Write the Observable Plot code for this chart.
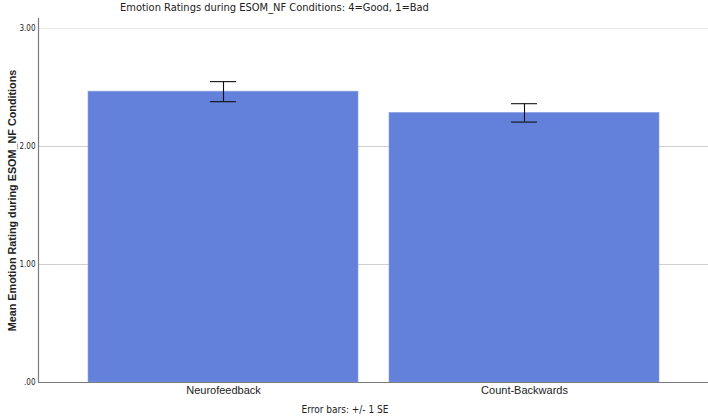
<!DOCTYPE html>
<html>
<head>
<meta charset="utf-8">
<script src="https://cdn.jsdelivr.net/npm/d3@7"></script>
<script src="https://cdn.jsdelivr.net/npm/@observablehq/plot@0.6"></script>
<style>
  html, body { margin: 0; padding: 0; background: #ffffff; }
  #wrap { position: relative; width: 708px; height: 418px; overflow: hidden; }
  #title { position: absolute; top: 0; left: 120px; width: 274px; height: 16px; background: #fff;
           font: 11px "Liberation Sans Narrow", "DejaVu Sans Condensed", sans-serif; color: #222;
           text-align: center; line-height: 15px; white-space: nowrap; }
  #chart { position: absolute; top: 17px; left: 0; }
  #caption { position: absolute; top: 403px; left: 245px; width: 200px; text-align: center; white-space: nowrap;
             font: 10px "Liberation Sans Narrow", "DejaVu Sans Condensed", sans-serif; color: #222; line-height: 14px; }
</style>
</head>
<body>
<div id="wrap">
  <div id="title">Emotion Ratings during ESOM_NF Conditions: 4=Good, 1=Bad</div>
  <div id="chart"></div>
  <div id="caption">Error bars: +/- 1 SE</div>
</div>
<script>
const conditions = ["Neurofeedback", "Count-Backwards"];
const means = [2.465, 2.285];
const se = [0.085, 0.078];
const yTicks = [0, 1, 2, 3];

const data = conditions.map((c, i) => ({condition: c, mean: means[i], lo: means[i] - se[i], hi: means[i] + se[i]}));

const chart = Plot.plot({
  width: 708,
  height: 386,
  marginLeft: 38,
  marginRight: 0,
  marginTop: 1,
  marginBottom: 21,
  style: {background: "transparent", fontFamily: "Liberation Sans, Arial, sans-serif", color: "#222", overflow: "visible"},
  x: {domain: conditions, paddingInner: 0.103, paddingOuter: 0.164, label: null},
  y: {domain: [0, 3.085], label: null},
  marks: [
    Plot.gridY([1, 2], {stroke: "#cfcfcf", strokeOpacity: 1, strokeWidth: 1}),
    Plot.gridY([3], {stroke: "#ebe8e8", strokeOpacity: 1, strokeWidth: 1}),
    Plot.barY(data, {x: "condition", y: "mean", fill: "#6381db", stroke: "#8ea2e4", strokeWidth: 0.6}),
    Plot.ruleX(data, {x: "condition", y1: "lo", y2: "hi", stroke: "#111", strokeWidth: 1.1}),
    Plot.tickY(data, {x: "condition", y: "lo", stroke: "#111", strokeWidth: 1.1, inset: 122}),
    Plot.tickY(data, {x: "condition", y: "hi", stroke: "#111", strokeWidth: 1.1, inset: 122}),
    Plot.axisY({ticks: yTicks, tickSize: 0, tickPadding: 3, tickFormat: d => d === 0 ? ".00" : d.toFixed(2),
      fontSize: 8, fontFamily: "Liberation Sans Narrow, DejaVu Sans Condensed, sans-serif", label: null}),
    Plot.axisX({tickSize: 0, tickPadding: 4, fontSize: 11, label: null}),
    Plot.ruleY([0], {stroke: "#7a7a7a", strokeWidth: 1.2}),
    Plot.frame({anchor: "left", stroke: "#7a7a7a", strokeWidth: 1.2}),
    Plot.text(["Mean Emotion Rating during ESOM_NF Conditions"], {frameAnchor: "left", textAnchor: "middle", dx: -26, rotate: -90,
      fontSize: 10.8, fontWeight: "bold", fill: "#222", lineWidth: 100})
  ]
});
document.getElementById("chart").appendChild(chart);
</script>
</body>
</html>
